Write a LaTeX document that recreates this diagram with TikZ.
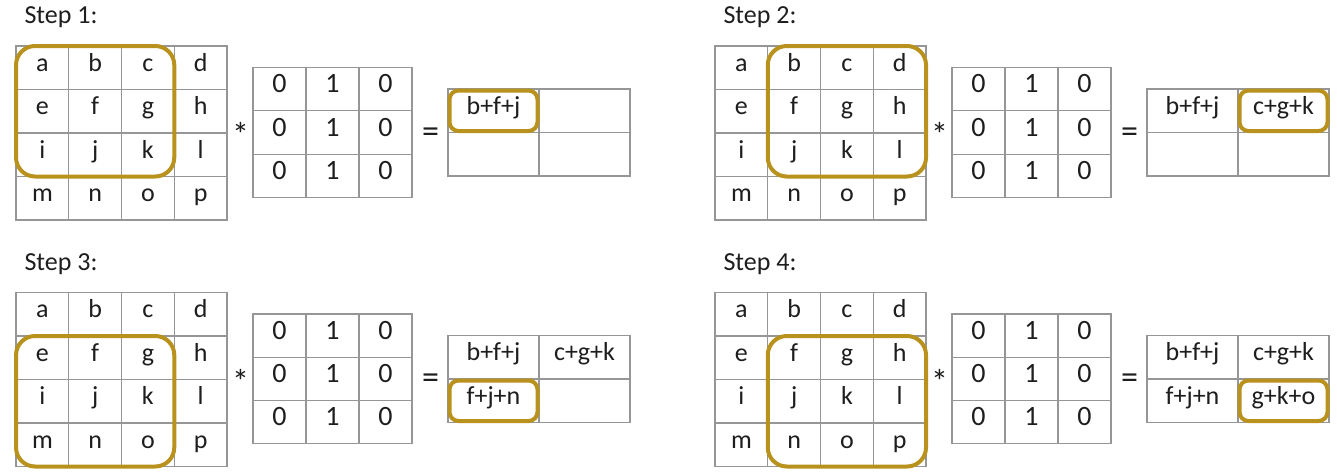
\documentclass[tikz,border=0pt]{standalone}
\usepackage{fontspec}
\setmainfont{Carlito}
\usepackage{tikz}
\usetikzlibrary{positioning,fit}
\usepackage{xcolor}
\definecolor{hlgold}{RGB}{185,146,30}
\definecolor{gridgray}{RGB}{150,150,150}
\definecolor{ink}{RGB}{30,30,30}

\begin{document}
\begin{tikzpicture}[
    x=1pt,y=-1pt,text=ink,font=\fontsize{26}{30}\selectfont,
  cell/.style={draw=gridgray,line width=1.1pt,minimum width=52.75pt,minimum height=43.5pt,
    inner sep=0pt,outer sep=0pt,text height=0.76em,text depth=0.02em},
  kcell/.style={cell,minimum width=53pt,minimum height=43.3pt,font=\fontsize{28}{32}\selectfont},
  ocell/.style={cell,minimum width=91pt},
  window/.style={draw=hlgold,line width=4pt,rounded corners=19pt,inner sep=0pt},
  picked/.style={draw=hlgold,line width=4pt,rounded corners=9pt,inner sep=-1.5pt},
  steptitle/.style={anchor=base west,font=\fontsize{26}{30}\selectfont},
  sign/.style={inner sep=0pt,font=\fontsize{34}{36}\selectfont},
]

  \fill[white] (0,0) rectangle (1337,472);
  \useasboundingbox (0,0) rectangle (1337,472);

  \foreach \st/\dx/\dy/\tl/\br in {1/0/0/a/k, 2/699/0/b/l, 3/0/246.5/e/o, 4/699/246.5/f/p} {
  \begin{scope}[shift={(\dx,\dy)}]
    \node[steptitle] (title\st) at (21,23.5) {Step \st:};

    % input 4x4
    \foreach \l [count=\i from 0] in {a,b,c,d,e,f,g,h,i,j,k,l,m,n,o,p} {
      \pgfmathtruncatemacro\col{mod(\i,4)}
      \pgfmathtruncatemacro\row{div(\i,4)}
      \node[cell] (s\st-\l) at (42.4+52.75*\col,67.75+43.5*\row) {\l};
    }

    % kernel 3x3
    \foreach \row in {0,1,2}
      \foreach \v [count=\col from 0] in {0,1,0}
        \node[kcell] (k\st-\row\col) at (279.5+53*\col,89.15+43.3*\row) {\v};

    % result 2x2
    \foreach \entry [count=\k from 0] in {b+f+j,c+g+k,f+j+n,g+k+o} {
      \pgfmathtruncatemacro\col{mod(\k,2)}
      \pgfmathtruncatemacro\row{div(\k,2)}
      \node[ocell] (o\st-\k) at (493.5+91*\col,110.75+43.5*\row)
        {\ifnum\k<\st\relax\entry\fi};
    }

    \node[sign] (star\st) at (240.5,134.5) {*};
    \node[sign] (eq\st) at (430.5,135) {=};

    \node[window,fit=(s\st-\tl)(s\st-\br)] (win\st) {};
    \pgfmathtruncatemacro\last{\st-1}
    \node[picked,fit=(o\st-\last)] (res\st) {};
  \end{scope}
  }
\end{tikzpicture}
\end{document}
